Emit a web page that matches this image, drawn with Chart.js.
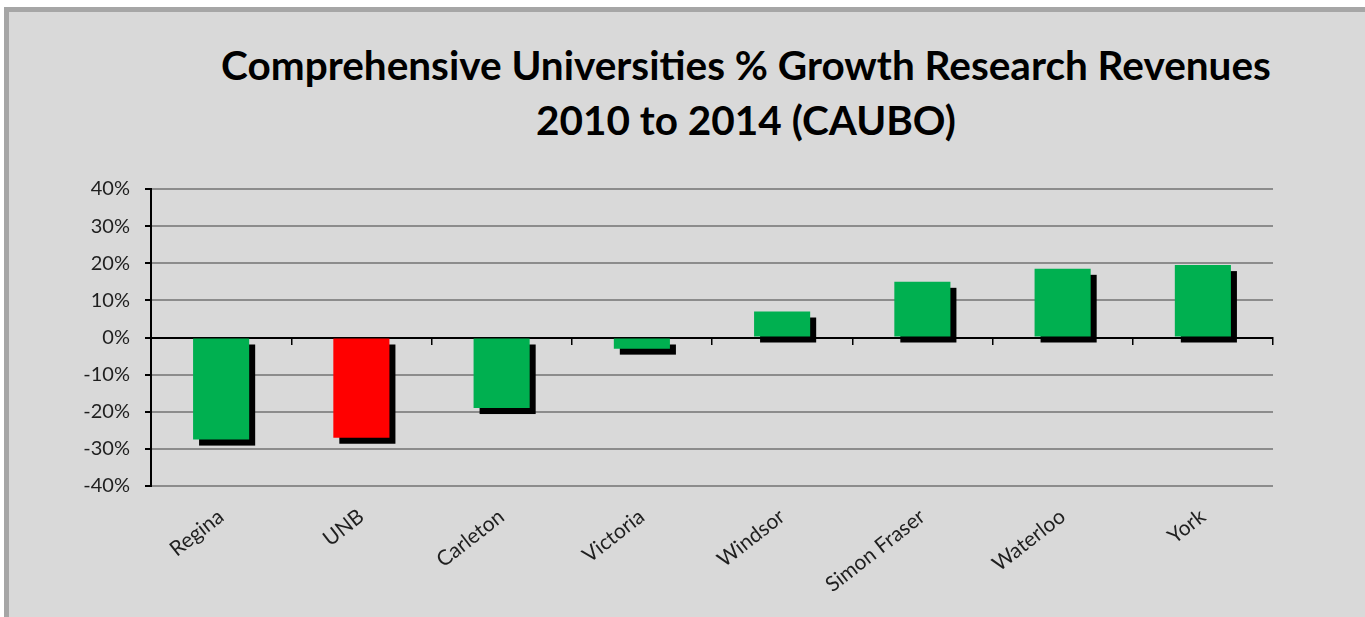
<!DOCTYPE html>
<html>
<head>
<meta charset="utf-8">
<script src="https://cdn.jsdelivr.net/npm/chart.js@4.4.1/dist/chart.umd.min.js"></script>
<style>
  html, body { margin: 0; padding: 0; background: #ffffff; width: 1365px; height: 617px; overflow: hidden; }
  #frame { position: absolute; left: 4px; top: 7px; width: 1400px; height: 700px; background: #d9d9d9; border-left: 5px solid #a6a6a6; border-top: 5px solid #a6a6a6; }
  #wrap { position: absolute; left: 0; top: 0; width: 1365px; height: 617px; }
  .title { position: absolute; left: 146px; width: 1200px; text-align: center; font-family: Lato, "Open Sans", sans-serif; font-weight: bold; font-size: 40.5px; color: #000; white-space: nowrap; line-height: 40px; }
</style>
</head>
<body>
<div id="frame"></div>
<div class="title" style="top:45px;">Comprehensive Universities % Growth Research Revenues</div>
<div class="title" style="top:100px;">2010 to 2014 (CAUBO)</div>
<div id="wrap"><canvas id="c" width="1365" height="617"></canvas></div>
<script>
const categories = ["Regina", "UNB", "Carleton", "Victoria", "Windsor", "Simon Fraser", "Waterloo", "York"];
const growthValues = [-27.5, -27, -19, -3, 7, 15, 18.5, 19.5];
const barColors = ["#00b050", "#ff0000", "#00b050", "#00b050", "#00b050", "#00b050", "#00b050", "#00b050"];
const yTicks = [-40, -30, -20, -10, 0, 10, 20, 30, 40];

const shadowPlugin = {
  id: 'barShadow',
  beforeDatasetsDraw(chart) {
    const ctx = chart.ctx;
    const meta = chart.getDatasetMeta(0);
    ctx.save();
    ctx.fillStyle = '#000000';
    meta.data.forEach(bar => {
      const p = bar.getProps(['x', 'y', 'base', 'width'], true);
      const top = Math.min(p.y, p.base);
      const h = Math.abs(p.y - p.base);
      ctx.fillRect(p.x - p.width / 2 + 6, top + 6, p.width, h);
    });
    ctx.restore();
  }
};

new Chart(document.getElementById('c'), {
  type: 'bar',
  data: {
    labels: categories,
    datasets: [{
      data: growthValues,
      backgroundColor: barColors,
      borderWidth: 0,
      categoryPercentage: 1.0,
      barPercentage: 0.4
    }]
  },
  options: {
    responsive: false,
    animation: false,
    devicePixelRatio: 1,
    plugins: { legend: { display: false }, tooltip: { enabled: false }, title: { display: false } },
    layout: { padding: { left: 60, right: 92, top: 189, bottom: 6 } },
    scales: {
      x: {
        type: 'category',
        position: { y: 0 },
        offset: true,
        grid: { display: true, drawOnChartArea: false, drawTicks: true, tickLength: 6, color: '#000000', lineWidth: 1.5, offset: true },
        border: { display: true, color: '#000000', width: 2 },
        ticks: { display: false }
      },
      x2: {
        type: 'category',
        labels: categories,
        position: 'bottom',
        offset: true,
        grid: { display: false },
        border: { display: false },
        afterFit: s => { s.height = 125; },
        ticks: {
          autoSkip: false,
          maxRotation: 38,
          minRotation: 38,
          padding: 10,
          color: '#1f1f1f',
          font: { family: 'Lato, "Open Sans", sans-serif', size: 21 }
        }
      },
      y: {
        min: -40,
        max: 40,
        afterFit: s => { s.width = 91; },
        afterBuildTicks: s => { s.ticks = yTicks.map(v => ({ value: v })); },
        grid: { color: '#8c8c8c', lineWidth: 2, tickColor: '#000000', tickLength: 6, drawTicks: true },
        border: { display: true, color: '#000000', width: 2 },
        ticks: {
          padding: 15,
          color: '#1f1f1f',
          font: { family: 'Lato, "Open Sans", sans-serif', size: 20 },
          callback: v => v + '%'
        }
      }
    }
  },
  plugins: [shadowPlugin]
});
</script>
</body>
</html>
